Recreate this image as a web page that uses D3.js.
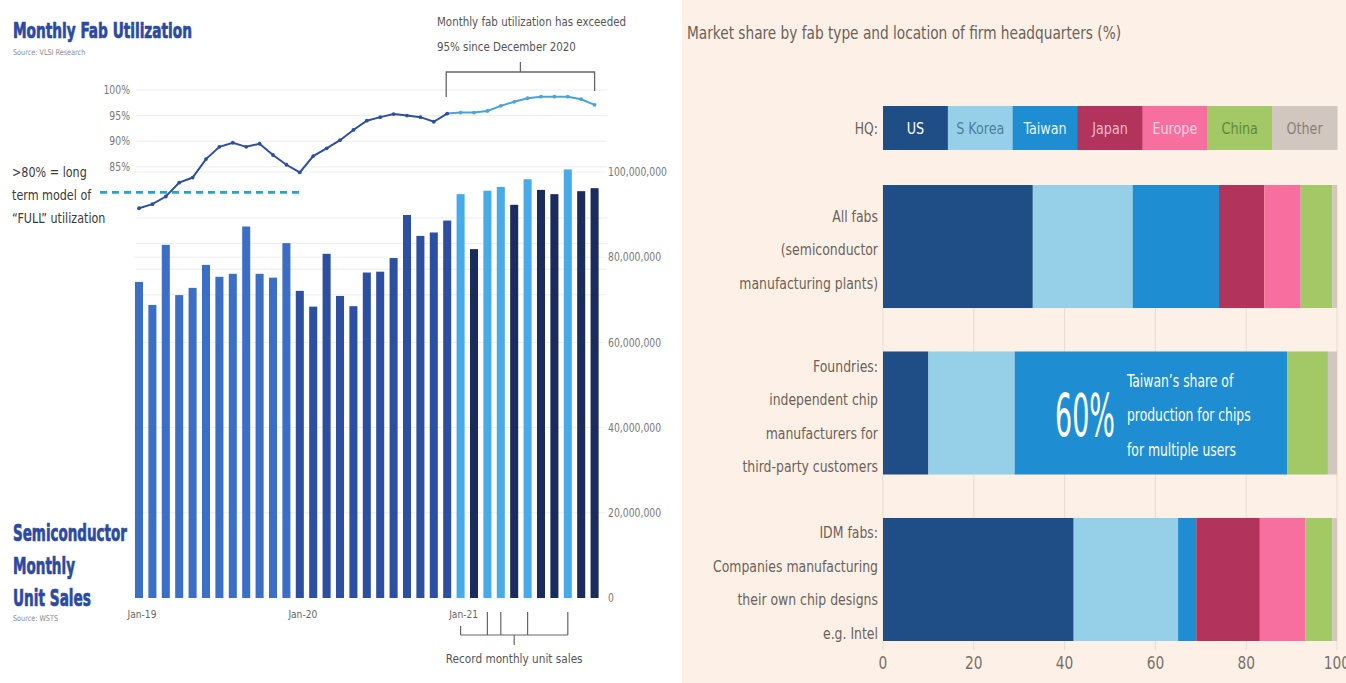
<!DOCTYPE html>
<html><head><meta charset="utf-8">
<script src="https://cdn.jsdelivr.net/npm/d3@7"></script>
<style>
body{margin:0;background:#fff;}
svg{display:block;}
text{font-family:"Liberation Sans Narrow","DejaVu Sans Condensed","Roboto Condensed",sans-serif;}
</style>
</head><body>
<svg id="c" width="1346" height="683"></svg>
<script>
// ---------- LEFT CHART DATA ----------
const months = ["Jan-19","Feb-19","Mar-19","Apr-19","May-19","Jun-19","Jul-19","Aug-19","Sep-19","Oct-19","Nov-19","Dec-19",
  "Jan-20","Feb-20","Mar-20","Apr-20","May-20","Jun-20","Jul-20","Aug-20","Sep-20","Oct-20","Nov-20","Dec-20",
  "Jan-21","Feb-21","Mar-21","Apr-21","May-21","Jun-21","Jul-21","Aug-21","Sep-21","Oct-21","Nov-21"];
const unitSales = [74200000,68800000,82900000,71100000,72800000,78200000,75400000,76100000,87200000,76100000,75200000,83300000,
  72100000,68400000,80800000,70900000,68500000,76400000,76600000,79800000,89900000,85000000,85800000,88600000,
  94800000,81900000,95600000,96500000,92300000,98300000,95800000,94800000,100600000,95500000,96200000];
const utilization = [76.9,77.7,79.2,81.9,82.9,86.5,88.9,89.7,88.9,89.5,87.3,85.4,
  83.9,87.1,88.6,90.2,92.2,94.0,94.7,95.3,95.0,94.7,93.8,95.4,
  95.6,95.6,95.9,96.9,97.7,98.4,98.7,98.7,98.7,98.2,97.1];
const recordMonths = ["Jan-21","Mar-21","Apr-21","Jun-21","Sep-21"];
const xLabels = ["Jan-19","Jan-20","Jan-21"];
const salesTicks = [0,20000000,40000000,60000000,80000000,100000000];
const utilTicks = [100,95,90,85];
const utilGrid = [100,95,90,85,75,70,65,60];
const fullThreshold = 80;
const sinceMonth = "Dec-20";

// ---------- RIGHT CHART DATA ----------
const fabTypes = ["All fabs","Foundries","IDM fabs"];
const fabLabelLines = [["All fabs","(semiconductor","manufacturing plants)"],
  ["Foundries:","independent chip","manufacturers for","third-party customers"],
  ["IDM fabs:","Companies manufacturing","their own chip designs","e.g. Intel"]];
const hqRegions = ["US","S Korea","Taiwan","Japan","Europe","China","Other"];
const usShare     = [33,10,42];
const sKoreaShare = [22,19,23];
const taiwanShare = [19,60,4];
const japanShare  = [10,0,14];
const europeShare = [8,0,10];
const chinaShare  = [7,9,6];
const otherShare  = [1,2,1];
const shareTicks = [0,20,40,60,80,100];

const svg = d3.select("#c");
const SX = 0.86; // horizontal condensing to mimic the narrow face

// helper: condensed text
function T(parent, x, y, txt, size, fill, anchor, sx, weight){
  return parent.append("text")
    .attr("transform",`translate(${x},${y}) scale(${sx||SX},1)`)
    .attr("dy","0.35em").attr("font-size",size).attr("fill",fill)
    .attr("text-anchor",anchor||"start").attr("font-weight",weight||"normal").text(txt);
}
// helper: fit text to a given width
function F(parent, x, y, txt, size, fill, width, weight){
  const t = parent.append("text").attr("font-size",size).attr("fill",fill)
    .attr("font-weight",weight||"normal").attr("dy","0.35em").text(txt);
  const w = t.node().getComputedTextLength();
  t.attr("transform",`translate(${x},${y}) scale(${width/w},1)`);
  return t;
}
function heavy(t){ return t.attr("stroke",t.attr("fill")).attr("stroke-width",0.7).attr("paint-order","stroke"); }

// ================= LEFT =================
const L = svg.append("g");
const x = d3.scaleBand().domain(months).range([132.3,601.3]).paddingInner(0.4).paddingOuter(0.2);
const cx = m => x(m) + x.bandwidth()/2;
const yS = d3.scaleLinear().domain([0,100000000]).range([598,172]);
const yU = d3.scaleLinear().domain([80,100]).range([192.4,90]);

// grids
L.selectAll(".ug").data(utilGrid).join("line")
  .attr("x1",136).attr("x2",607).attr("y1",d=>yU(d)).attr("y2",d=>yU(d))
  .attr("stroke","#ececec").attr("stroke-width",1);
L.selectAll(".sg").data(salesTicks.slice(1)).join("line")
  .attr("x1",134).attr("x2",605).attr("y1",d=>yS(d)).attr("y2",d=>yS(d))
  .attr("stroke","#eeeeee").attr("stroke-width",1);

// bars
function barColor(m){
  const yr = m.slice(-2);
  if (yr==="19") return "#3b6ec5";
  if (yr==="20") return "#2c4fa1";
  return recordMonths.includes(m) ? "#47abe9" : "#1a2c5c";
}
L.selectAll(".bar").data(months).join("rect")
  .attr("x",d=>x(d)).attr("width",x.bandwidth())
  .attr("y",(d,i)=>yS(unitSales[i])).attr("height",(d,i)=>yS(0)-yS(unitSales[i]))
  .attr("fill",d=>barColor(d));

// sales axis labels (right)
L.selectAll(".sl").data(salesTicks).join("text")
  .attr("transform",d=>`translate(608,${yS(d)}) scale(${SX},1)`).attr("dy","0.35em")
  .attr("font-size",12).attr("fill","#777")
  .text(d=>d3.format(",")(d));

// utilization labels
L.selectAll(".ul").data(utilTicks).join("text")
  .attr("transform",d=>`translate(130,${yU(d)}) scale(${SX},1)`).attr("dy","0.35em").attr("text-anchor","end")
  .attr("font-size",12).attr("fill","#777")
  .text(d=>d+"%");

// threshold dashed line
L.append("line").attr("x1",100).attr("x2",302).attr("y1",yU(fullThreshold)).attr("y2",yU(fullThreshold))
  .attr("stroke","#2a9fd3").attr("stroke-width",2.6).attr("stroke-dasharray","7,5");

// utilization line
const pts = months.map((m,i)=>({m,i,v:utilization[i]}));
const splitIdx = months.indexOf(sinceMonth);
const line = d3.line().x(d=>cx(d.m)).y(d=>yU(d.v)).curve(d3.curveLinear);
L.append("path").attr("d",line(pts.slice(0,splitIdx+1))).attr("fill","none").attr("stroke","#2e4f9f").attr("stroke-width",2);
L.append("path").attr("d",line(pts.slice(splitIdx))).attr("fill","none").attr("stroke","#48a4de").attr("stroke-width",2);
L.selectAll(".pt").data(pts).join("circle")
  .attr("cx",d=>cx(d.m)).attr("cy",d=>yU(d.v)).attr("r",1.9)
  .attr("fill",d=>d.i>splitIdx?"#48a4de":"#2e4f9f");

// x labels
L.selectAll(".xl").data(xLabels).join("text")
  .attr("transform",d=>`translate(${cx(d)+3},614) scale(0.92,1)`).attr("dy","0.35em").attr("text-anchor","middle")
  .attr("font-size",11).attr("fill","#666").text(d=>d);

// titles
heavy(F(L,13,31,"Monthly Fab Utilization",21,"#2b4aa0",179,"bold"));
T(L,13,52,"Source: VLSI Research",8,"#8a8a8a","start",0.9);
heavy(F(L,13,533,"Semiconductor",23,"#2b4aa0",114,"bold"));
heavy(F(L,13,566,"Monthly",23,"#2b4aa0",62,"bold"));
heavy(F(L,13,598,"Unit Sales",23,"#2b4aa0",78,"bold"));
T(L,13,618,"Source: WSTS",8,"#8a8a8a","start",0.9);

// >80% note
[">80% = long","term model of","\u201CFULL\u201D utilization"].forEach((t,i)=>{
  T(L,12,172+i*23,t,13.5,"#3a3a3a","start",0.92);
});

// top annotation
["Monthly fab utilization has exceeded","95% since December 2020"].forEach((t,i)=>{
  T(L,437,21+i*25,t,13,"#555","start",0.88);
});
const bx1 = cx(sinceMonth)-1, bx2 = cx(months[months.length-1]);
const bmid = (bx1+bx2)/2;
L.append("path").attr("d",`M${bx1},97 V72 H${bx2} V91 M${bmid},72 V62`)
  .attr("fill","none").attr("stroke","#666").attr("stroke-width",1.3);

// record bracket
const rx = recordMonths.map(cx);
const rmid = (rx[0]+rx[rx.length-1])/2;
let rd = `M${rx[0]},635 H${rx[rx.length-1]} M${rmid},635 V645`;
rx.forEach((v,i)=>{ rd += ` M${v},${i===0?626:612} V635`; });
L.append("path").attr("d",rd).attr("fill","none").attr("stroke","#666").attr("stroke-width",1.2);
T(L,rmid,658,"Record monthly unit sales",13,"#555","middle",0.9);

// ================= RIGHT =================
const R = svg.append("g");
R.append("rect").attr("x",682).attr("y",0).attr("width",664).attr("height",683).attr("fill","#fdf0e6");
const xs = d3.scaleLinear().domain([0,100]).range([883,1337]);
const yb = d3.scaleBand().domain(fabTypes).range([185,641]).paddingInner(0.261).paddingOuter(0);
const colors = d3.scaleOrdinal().domain(hqRegions)
  .range(["#1f4e86","#96d0e8","#1f8dd2","#b2335b","#f76f9e","#a3c866","#d1c7be"]);
const legendText = d3.scaleOrdinal().domain(hqRegions)
  .range(["#ffffff","#4f7f9c","#e6f3fb","#f1b9cb","#fdd3e2","#5f8a3c","#8a8179"]);

T(R,687,33,"Market share by fab type and location of firm headquarters (%)",17.5,"#6b625a","start",0.87);

// grid
R.selectAll(".vg").data(shareTicks).join("line")
  .attr("x1",d=>xs(d)).attr("x2",d=>xs(d)).attr("y1",185).attr("y2",650)
  .attr("stroke","#eadbcf").attr("stroke-width",1);

// legend
const lx = d3.scaleBand().domain(hqRegions).range([883,1337]);
R.selectAll(".lg").data(hqRegions).join("rect")
  .attr("x",d=>lx(d)).attr("y",106).attr("width",lx.bandwidth()+0.5).attr("height",44).attr("fill",d=>colors(d));
R.selectAll(".lt").data(hqRegions).join("text")
  .attr("transform",d=>`translate(${lx(d)+lx.bandwidth()/2},128) scale(0.86,1)`).attr("dy","0.35em").attr("text-anchor","middle")
  .attr("font-size",16.5).attr("fill",d=>legendText(d)).text(d=>d);
T(R,878,128,"HQ:",16,"#6b625a","end",0.86);

// stacked bars
const shareSeries = [usShare,sKoreaShare,taiwanShare,japanShare,europeShare,chinaShare,otherShare];
const table = fabTypes.map((f,i)=>{ const o={fab:f}; hqRegions.forEach((r,k)=>o[r]=shareSeries[k][i]); return o; });
const stacked = d3.stack().keys(hqRegions)(table);
R.selectAll(".ser").data(stacked).join("g").attr("fill",d=>colors(d.key))
  .selectAll("rect").data(d=>d).join("rect")
  .attr("x",d=>xs(d[0])).attr("width",d=>Math.max(0,xs(d[1])-xs(d[0])))
  .attr("y",d=>yb(d.data.fab)).attr("height",yb.bandwidth());

// category labels
fabTypes.forEach((f,i)=>{
  const lines = fabLabelLines[i];
  const c = yb(f)+yb.bandwidth()/2 + 3;
  const sp = 33.5;
  lines.forEach((t,j)=>{
    T(R,878,c+(j-(lines.length-1)/2)*sp,t,16.5,"#6b625a","end",0.84);
  });
});

// x ticks
R.selectAll(".xt").data(shareTicks).join("text")
  .attr("transform",d=>`translate(${xs(d)},663) scale(0.9,1)`).attr("dy","0.35em").attr("text-anchor","middle")
  .attr("font-size",17).attr("fill","#7a7068").text(d=>d);

// 60% annotation
const fy = yb("Foundries")+yb.bandwidth()/2;
F(R,1055,fy+3,taiwanShare[1]+"%",58,"#ffffff",60,"normal");
["Taiwan\u2019s share of","production for chips","for multiple users"].forEach((t,j)=>{
  T(R,1127,fy-32+j*34.5,t,17,"#ffffff","start",0.81);
});
</script>
</body></html>
